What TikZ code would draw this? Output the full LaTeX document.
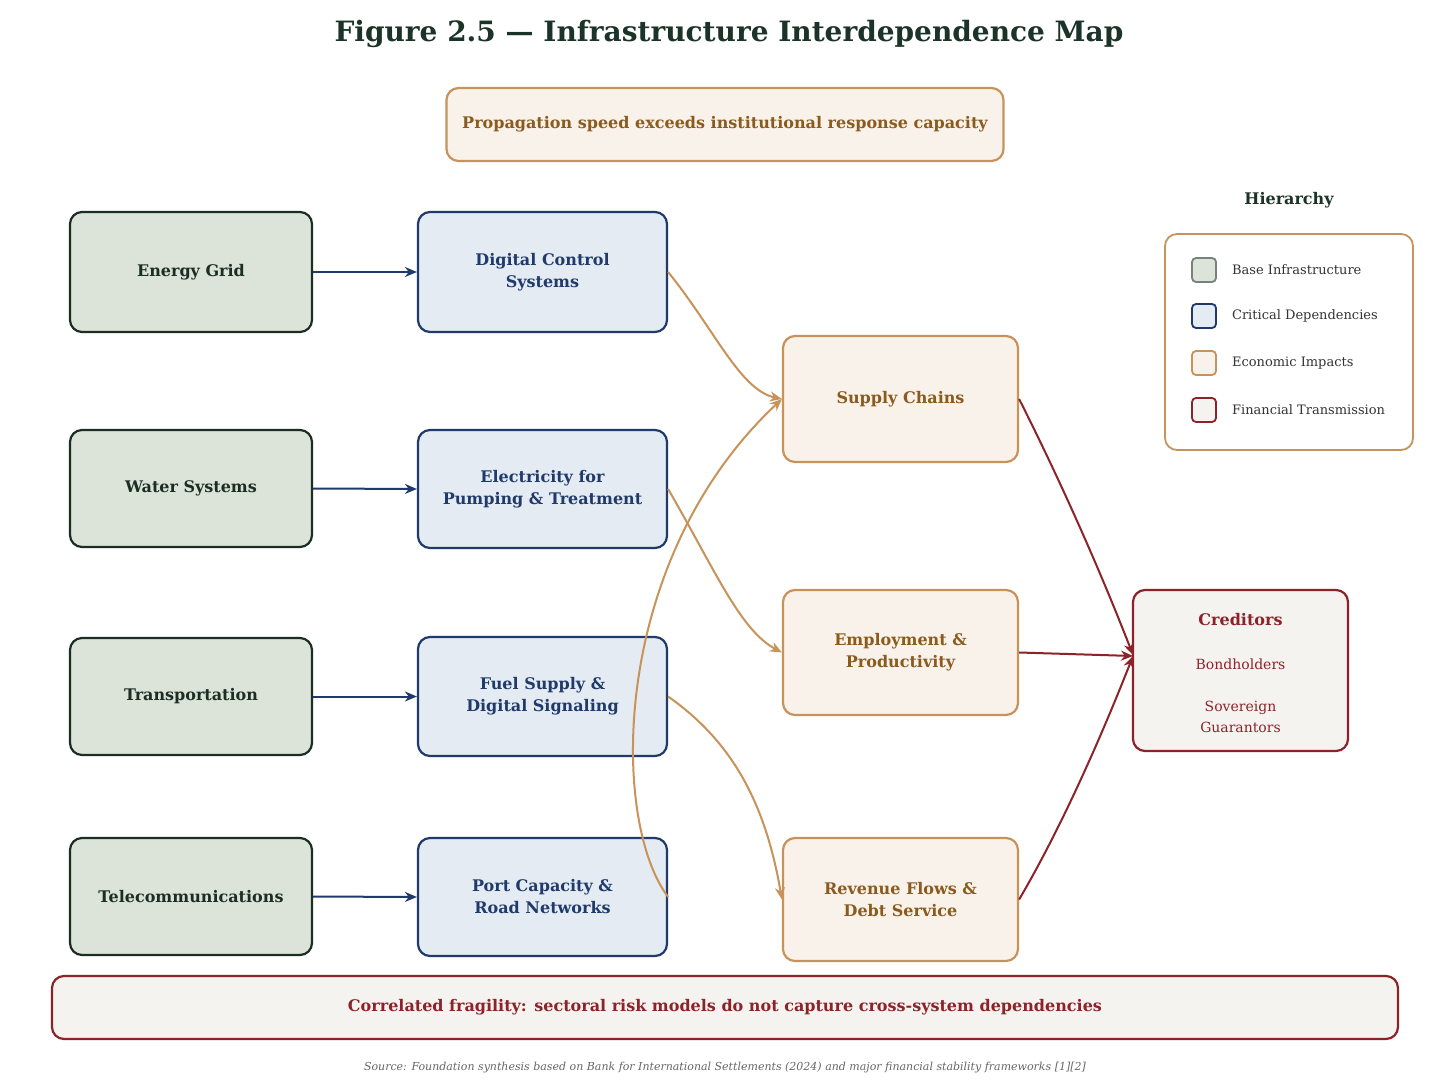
\documentclass[tikz,border=0pt]{standalone}
\usepackage{fontspec}
\setmainfont{DejaVu Serif}
\usetikzlibrary{arrows.meta}
\definecolor{gF}{HTML}{DCE3D8}\definecolor{gB}{HTML}{1C2E24}
\definecolor{bF}{HTML}{E4EBF3}\definecolor{bB}{HTML}{1F3A6B}
\definecolor{oF}{HTML}{F8F2EA}\definecolor{oB}{HTML}{C8935A}\definecolor{oT}{HTML}{8B5A1E}
\definecolor{rB}{HTML}{8B2328}\definecolor{rF}{HTML}{F5F3F0}
\definecolor{tT}{HTML}{1C3328}
\begin{document}
\begin{tikzpicture}[x=0.5pt,y=-0.5pt,
 box/.style={rounded corners=6pt,line width=1.1pt,align=center,font=\bfseries\fontsize{8}{11}\selectfont,inner sep=0pt},
 g/.style={box,fill=gF,draw=gB,text=gB},
 b/.style={box,fill=bF,draw=bB,text=bB},
 o/.style={box,fill=oF,draw=oB,text=oT},
 ba/.style={-{Stealth[length=6pt,width=5pt]},line width=1pt,bB},
 oa/.style={-{Stealth[length=6pt,width=5pt]},line width=1pt,oB},
 ra/.style={-{Stealth[length=6pt,width=5pt]},line width=1pt,rB},
 lg/.style={rounded corners=2pt,line width=0.9pt,minimum size=12pt,inner sep=0pt},
 lt/.style={anchor=west,font=\fontsize{6.5}{8}\selectfont,text=black!80}]
\useasboundingbox[fill=white] (0,0) rectangle (1450,1085);
\node[font=\bfseries\fontsize{14}{16}\selectfont,text=tT] (title) at (729,34) {Figure 2.5 — Infrastructure Interdependence Map};
\node[box,fill=oF,draw=oB,text=oT,minimum width=278.5pt,minimum height=36.5pt] (top) at (725,124.5) {Propagation speed exceeds institutional response capacity};
% green
\node[g,minimum width=121pt,minimum height=60pt] (e) at (191,272) {Energy Grid};
\node[g,minimum width=121pt,minimum height=58.5pt] (w) at (191,488.5) {Water Systems};
\node[g,minimum width=121pt,minimum height=58.5pt] (t) at (191,696.5) {Transportation};
\node[g,minimum width=121pt,minimum height=58.5pt] (c) at (191,896.5) {Telecommunications};
% blue
\node[b,minimum width=124.5pt,minimum height=60pt] (d) at (542.5,272) {Digital Control\\Systems};
\node[b,minimum width=124.5pt,minimum height=59pt] (el) at (542.5,489) {Electricity for\\Pumping \& Treatment};
\node[b,minimum width=124.5pt,minimum height=59.5pt] (f) at (542.5,696.5) {Fuel Supply \&\\Digital Signaling};
\node[b,minimum width=124.5pt,minimum height=59pt] (p) at (542.5,897) {Port Capacity \&\\Road Networks};
% orange
\node[o,minimum width=117.5pt,minimum height=63pt] (s) at (900.5,399) {Supply Chains};
\node[o,minimum width=117.5pt,minimum height=62.5pt] (em) at (900.5,652.5) {Employment \&\\Productivity};
\node[o,minimum width=117.5pt,minimum height=61.5pt] (r) at (900.5,899.5) {Revenue Flows \&\\Debt Service};
% creditors
\node[box,fill=rF,draw=rB,minimum width=107.5pt,minimum height=80.5pt] (cr) at (1240.5,670.5) {};
\node[font=\bfseries\fontsize{8}{10}\selectfont,text=rB] (crt) at (1240.5,620) {Creditors};
\node[font=\fontsize{7}{9}\selectfont,text=rB] (crb) at (1240.5,664) {Bondholders};
\node[font=\fontsize{7}{10.5}\selectfont,text=rB,align=center] (crs) at (1240.5,717) {Sovereign\\Guarantors};
% bottom
\node[box,fill=rF,draw=rB,text=rB,minimum width=673pt,minimum height=31.5pt] (bot) at (725,1007.5) {Correlated fragility: sectoral risk models do not capture cross-system dependencies};
\node[font=\itshape\fontsize{5.5}{7}\selectfont,text=black!60] (src) at (725,1068) {Source: Foundation synthesis based on Bank for International Settlements (2024) and major financial stability frameworks [1][2]};
% legend
\node[font=\bfseries\fontsize{8}{10}\selectfont,text=tT] (lh) at (1289,200) {Hierarchy};
\node[draw=oB,rounded corners=6pt,line width=0.9pt,minimum width=124pt,minimum height=108pt,fill=white] (leg) at (1289,342) {};
\node[lg,fill=gF,draw=gB!60] (l1) at (1204,270) {};
\node[lg,fill=bF,draw=bB] (l2) at (1204,316) {};
\node[lg,fill=oF,draw=oB] (l3) at (1204,363) {};
\node[lg,fill=rF,draw=rB] (l4) at (1204,410) {};
\node[lt] at (1225,270) {Base Infrastructure};
\node[lt] at (1225,316) {Critical Dependencies};
\node[lt] at (1225,363) {Economic Impacts};
\node[lt] at (1225,410) {Financial Transmission};
% arrows
\draw[ba] (e.east) -- (d.west);
\draw[ba] (w.east) -- (el.west);
\draw[ba] (t.east) -- (f.west);
\draw[ba] (c.east) -- (p.west);
\draw[oa] (d.east) .. controls (715,330) and (740,390) .. (s.west);
\draw[oa] (el.east) .. controls (715,570) and (740,630) .. (em.west);
\draw[oa] (f.east) .. controls (730,740) and (765,800) .. (r.west);
\draw[oa] (p.east) .. controls (610,820) and (610,560) .. (s.west);
\draw[ra] (s.east) .. controls (1060,480) and (1100,570) .. (1133,655);
\draw[ra] (em.east) -- (1133,656);
\draw[ra] (r.east) .. controls (1060,830) and (1100,740) .. (1133,656);
\end{tikzpicture}
\end{document}
